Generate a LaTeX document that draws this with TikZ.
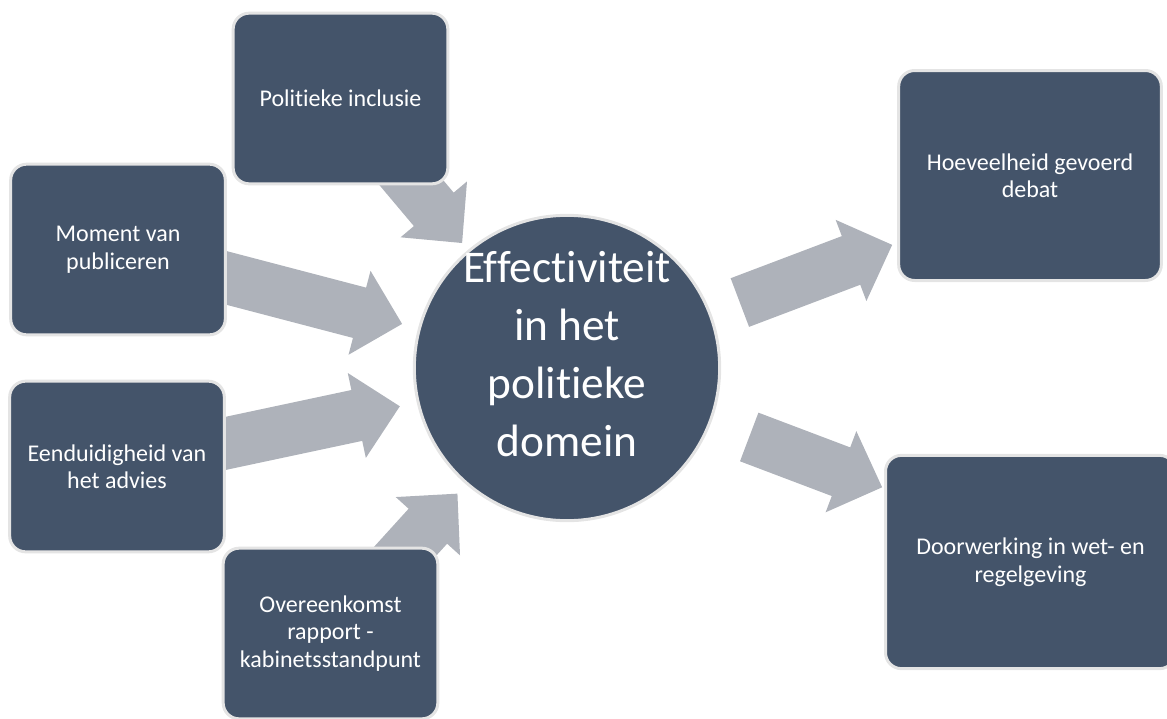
\documentclass[tikz,border=0pt]{standalone}
\usepackage{fontspec}
\setmainfont{Carlito}[Ligatures=NoCommon]
\usetikzlibrary{positioning,arrows.meta,backgrounds}
\definecolor{slate}{HTML}{44546A}
\definecolor{rim}{HTML}{E4E4E4}
\definecolor{flowgray}{RGB}{174,178,186}
\tikzset{factor/.style={rectangle, rounded corners=12pt, draw=rim, line width=2.25pt, fill=slate, text=white, align=center, minimum width=161pt, minimum height=128pt, font=\fontsize{18}{20.6}\selectfont}}
\tikzset{effect/.style={factor, minimum width=197pt, minimum height=157.5pt}}
\tikzset{hub/.style={circle, draw=rim, line width=2.25pt, fill=slate, text=white, minimum size=229pt, inner sep=-5pt, font=\fontsize{34}{43.5}\selectfont}}
\tikzset{flow/.style={draw=flowgray, line width=39pt, -{Triangle[width=64.5pt, length=33pt, line width=3pt 0]}, flowgray}}

\begin{document}
\begin{tikzpicture}[x=0.75pt, y=-0.75pt]
	\useasboundingbox (0,0) rectangle (1167,718);
	% text sits a little above the middle of the circle
	\node[hub] (eff) at (567,368) {\raisebox{7.5pt}[\height][\depth]{\begin{tabular}{@{}c@{}}Effectiviteit\\in het\\politieke\\domein\end{tabular}}};
	%
	\node[factor] (pol) at (340.5,98.5) {Politieke inclusie};
	\node[factor] (mom) at (118,249.5) {Moment van\\publiceren};
	\node[factor] (een) at (117,466.5) {Eenduidigheid van\\het advies};
	\node[factor] (ovk) at (330.5,633.5) {Overeenkomst\\rapport -\\kabinetsstandpunt};
	%
	\node[effect] (hoev) at (1030,175.5) {Hoeveelheid gevoerd\\debat};
	\node[effect, minimum width=217.5pt, minimum height=160pt] (doo) at (1030.5,562) {Doorwerking in wet- en\\regelgeving};
	%
	\begin{pgfonlayer}{background}
		\draw[flow, shorten >=6.75pt] (pol.center) -- (eff.130);
		\draw[flow, shorten >=12.4pt] (mom.center) -- (eff.165);
		\draw[flow, shorten >=13pt] (een.center) -- (eff.193);
		\draw[flow, shorten >=9.4pt] (ovk.center) -- (eff.229);
		\draw[flow, shorten <=23pt, shorten >=4pt] (eff) -- ([yshift=-50.6pt]hoev.west);
		\draw[flow, shorten <=30.5pt, shorten >=1.5pt] (eff) -- ([yshift=55.5pt]doo.west);
	\end{pgfonlayer}
\end{tikzpicture}
\end{document}
